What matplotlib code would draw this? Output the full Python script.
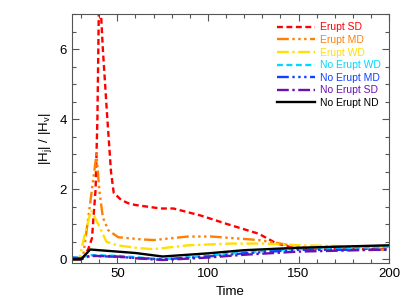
import numpy as np
import matplotlib.pyplot as plt
from matplotlib.ticker import MultipleLocator

plt.rcParams['font.family'] = ['Liberation Sans', 'DejaVu Sans']
plt.rcParams['mathtext.default'] = 'regular'

# values
t_sd = [25, 30, 32, 34, 36, 38, 39, 40, 42, 44.5, 46.5, 48, 52, 56, 60, 74, 81, 96, 111, 128, 138, 150, 170, 200]
erupt_sd = [0, 0, 0.1, 0.3, 0.6, 2.0, 4.0, 8.0, 6.0, 4.0, 2.5, 1.9, 1.7, 1.6, 1.55, 1.45, 1.45, 1.25, 1.0, 0.73, 0.45, 0.3, 0.3, 0.3]

t_md = [25, 30, 31, 33.5, 36, 38.5, 40, 42, 45, 50.5, 63, 70, 89, 102, 128, 140, 150, 170, 200]
erupt_md = [0, 0, 0.05, 1.0, 2.0, 3.0, 2.0, 1.2, 0.83, 0.63, 0.57, 0.55, 0.65, 0.65, 0.55, 0.45, 0.35, 0.28, 0.27]

t_wd = [25, 29, 32, 35.5, 39.5, 44, 50, 61.5, 70, 89, 113, 131, 150, 200]
erupt_wd = [0, 0, 0.7, 1.4, 1.0, 0.5, 0.4, 0.32, 0.29, 0.4, 0.45, 0.45, 0.4, 0.35]

t_ne = [25, 30, 35, 50, 60, 75, 100, 120, 150, 200]
noerupt_wd = [0.05, 0.05, 0.12, 0.1, 0.06, 0.0, 0.1, 0.2, 0.3, 0.35]
noerupt_md = [0.05, 0.03, 0.1, 0.07, 0.04, 0.0, 0.08, 0.17, 0.27, 0.27]
noerupt_sd = [0.0, 0.0, 0.1, 0.08, 0.03, -0.02, 0.05, 0.13, 0.22, 0.28]
noerupt_nd = [0.0, 0.0, 0.28, 0.22, 0.18, 0.08, 0.17, 0.26, 0.33, 0.4]

fig, ax = plt.subplots(figsize=(4.07, 3.06), dpi=100)
fig.subplots_adjust(left=0.177, right=0.956, top=0.954, bottom=0.14)

lw = 1.7
dash3 = (0, (5, 1.5, 1, 1.5, 1, 1.5, 1, 1.5))
dashdot = (0, (5, 1.5, 1, 1.5))
ax.plot(t_sd, erupt_sd, color='#ff0000', lw=lw, ls=(0, (2.5, 1.5)), label='Erupt SD')
ax.plot(t_md, erupt_md, color='#ff8000', lw=lw, ls=dash3, label='Erupt MD')
ax.plot(t_wd, erupt_wd, color='#ffe000', lw=lw, ls=dashdot, label='Erupt WD')
ax.plot(t_ne, noerupt_wd, color='#00d8ff', lw=lw, ls=(0, (2.5, 1.5)), label='No Erupt WD')
ax.plot(t_ne, noerupt_md, color='#1040ff', lw=lw, ls=dash3, label='No Erupt MD')
ax.plot(t_ne, noerupt_sd, color='#6a10b0', lw=lw, ls=dashdot, label='No Erupt SD')
ax.plot(t_ne, noerupt_nd, color='black', lw=lw, ls='-', label='No Erupt ND')

ax.set_xlim(25, 200)
ax.set_ylim(-0.11, 7.0)
ax.xaxis.set_major_locator(MultipleLocator(50))
ax.xaxis.set_minor_locator(MultipleLocator(10))
ax.yaxis.set_major_locator(MultipleLocator(2))
ax.yaxis.set_minor_locator(MultipleLocator(0.5))
ax.tick_params(which='both', direction='in', top=True, right=True, labelsize=9.5, color='#555555')
ax.tick_params(which='major', length=5, width=0.8)
ax.tick_params(which='minor', length=3, width=0.8)
for s in ax.spines.values():
    s.set_color('#555555')
    s.set_linewidth(0.8)

ax.set_xlabel('Time', fontsize=9.5)
ax.set_ylabel('|H$_j$| / |H$_v$|', fontsize=9.5)

leg = ax.legend(loc='upper right', frameon=False, fontsize=7.5, handlelength=3.6,
                handletextpad=0.5, labelspacing=0.25, borderaxespad=0.4)
for text, line in zip(leg.get_texts(), leg.get_lines()):
    text.set_color(line.get_color())

fig.savefig('out.png')
